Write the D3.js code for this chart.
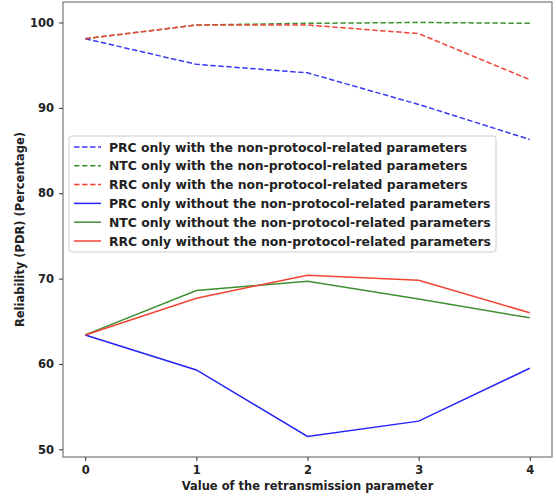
<!DOCTYPE html>
<html>
  <head>
    <style>
      body { margin: 0; background: #fff; }
      svg { font-family: "DejaVu Sans", sans-serif; font-weight: bold; }
    </style>
  </head>
  <body>
    <script src="https://d3js.org/d3.v7.min.js"></script>
    <script>
      const retrans = [0, 1, 2, 3, 4];
      const prcWith = [98.1, 95.1, 94.1, 90.4, 86.3];
      const ntcWith = [98.1, 99.7, 99.9, 100.0, 99.9];
      const rrcWith = [98.1, 99.7, 99.7, 98.7, 93.3];
      const prcWithout = [63.4, 59.3, 51.5, 53.3, 59.5];
      const ntcWithout = [63.4, 68.6, 69.7, 67.6, 65.4];
      const rrcWithout = [63.4, 67.7, 70.4, 69.8, 66.0];
      const yTicks = [50, 60, 70, 80, 90, 100];

      const series = [
        { name: "PRC only with the non-protocol-related parameters", values: prcWith, color: "#3a3af5", dash: true },
        { name: "NTC only with the non-protocol-related parameters", values: ntcWith, color: "#3f8f32", dash: true },
        { name: "RRC only with the non-protocol-related parameters", values: rrcWith, color: "#ef4433", dash: true },
        { name: "PRC only without the non-protocol-related parameters", values: prcWithout, color: "#2323f5", dash: false },
        { name: "NTC only without the non-protocol-related parameters", values: ntcWithout, color: "#3f8f32", dash: false },
        { name: "RRC only without the non-protocol-related parameters", values: rrcWithout, color: "#ef4433", dash: false }
      ];

      const mLeft = 63, mRight = 552, mTop = 2, mBottom = 457;
      const svg = d3.select("body").append("svg").attr("width", 556).attr("height", 496);

      const x = d3.scaleLinear().domain([-0.2, 4.2]).range([mLeft, mRight]);
      const y = d3.scaleLinear().domain([49.1, 102.4]).range([mBottom, mTop]);

      svg.append("rect")
        .attr("x", mLeft).attr("y", mTop)
        .attr("width", mRight - mLeft).attr("height", mBottom - mTop)
        .attr("fill", "none").attr("stroke", "#777").attr("stroke-width", 1.2);

      const xAxis = svg.append("g")
        .attr("transform", `translate(0,${mBottom})`)
        .call(d3.axisBottom(x).tickValues(retrans).tickFormat(d3.format("d")).tickSize(4).tickPadding(5));
      const yAxis = svg.append("g")
        .attr("transform", `translate(${mLeft},0)`)
        .call(d3.axisLeft(y).tickValues(yTicks).tickSize(4).tickPadding(5));
      [xAxis, yAxis].forEach(g => {
        g.select(".domain").remove();
        g.selectAll("text").attr("font-size", 11.5).attr("font-family", "DejaVu Sans").attr("font-weight", "bold").attr("fill", "#222");
        g.selectAll("line").attr("stroke", "#333");
      });

      const line = d3.line().x((d, i) => x(retrans[i])).y(d => y(d));
      series.forEach(s => {
        svg.append("path")
          .attr("d", line(s.values))
          .attr("fill", "none")
          .attr("stroke", s.color)
          .attr("stroke-width", 1.5)
          .attr("stroke-dasharray", s.dash ? "5.5,2.5" : null);
      });

      svg.append("text")
        .attr("x", (mLeft + mRight) / 2).attr("y", 490)
        .attr("text-anchor", "middle").attr("font-size", 11.5).attr("fill", "#222")
        .text("Value of the retransmission parameter");
      svg.append("text")
        .attr("transform", `translate(24,${(mTop + mBottom) / 2}) rotate(-90)`)
        .attr("text-anchor", "middle").attr("font-size", 11.5).attr("fill", "#222")
        .text("Reliability (PDR) (Percentage)");

      const legend = svg.append("g");
      legend.append("rect")
        .attr("x", 69).attr("y", 136).attr("width", 427).attr("height", 116)
        .attr("rx", 3).attr("fill", "#fff").attr("fill-opacity", 0.8)
        .attr("stroke", "#ccc");
      series.forEach((s, i) => {
        const cy = 147 + i * 18.8;
        legend.append("line")
          .attr("x1", 74).attr("x2", 101).attr("y1", cy).attr("y2", cy)
          .attr("stroke", s.color).attr("stroke-width", 1.5)
          .attr("stroke-dasharray", s.dash ? "5.5,2.5" : null);
        legend.append("text")
          .attr("x", 109).attr("y", cy + 4.6)
          .attr("font-size", 12.4).attr("fill", "#222")
          .text(s.name);
      });
    </script>
  </body>
</html>
